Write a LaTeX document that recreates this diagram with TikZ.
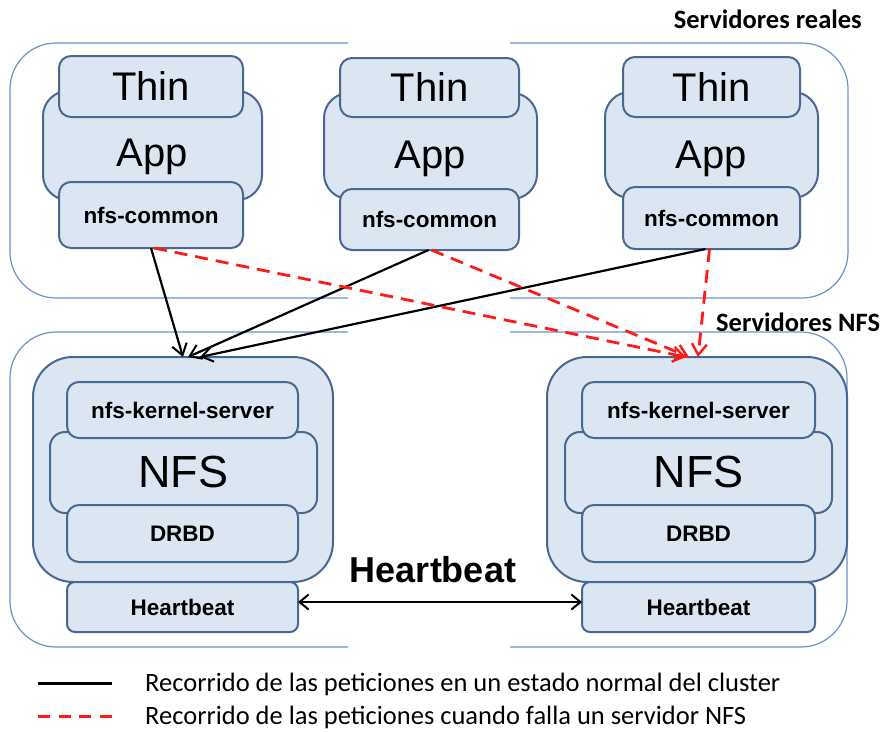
\documentclass[tikz,border=0pt]{standalone}
\usepackage{fontspec}
\setmainfont{Liberation Sans}
\newfontfamily\calfont{Carlito}
\usetikzlibrary{arrows.meta}
\definecolor{boxfill}{HTML}{DCE6F2}
\definecolor{boxline}{HTML}{48688F}
\definecolor{grpline}{HTML}{6A93C8}
\definecolor{dashred}{HTML}{FF1A1A}
\begin{document}
\begin{tikzpicture}[x=1pt,y=-1pt,
  bx/.style={draw=boxline, fill=boxfill, line width=2pt, inner sep=0pt, outer sep=0pt},
  grp/.style={draw=grpline, line width=1.2pt, rounded corners=46pt},
  big/.style={font=\fontsize{40}{48}\selectfont},
  nfsbig/.style={font=\fontsize{45}{54}\selectfont},
  small/.style={font=\bfseries\fontsize{22.5}{27}\selectfont},
  blk/.style={draw=black, line width=2.2pt, -{Straight Barb[length=11pt,width=15pt,line width=2pt]}},
  redpath/.style={draw=dashred, line width=2.8pt, dash pattern=on 13pt off 8pt, -{Straight Barb[length=11pt,width=15pt,line width=2.4pt]}},
  hbarrow/.style={draw=black, line width=2pt, {Straight Barb[length=9pt,width=15pt,line width=2pt]}-{Straight Barb[length=9pt,width=15pt,line width=2pt]}},
  captxt/.style={font=\calfont\bfseries\fontsize{26.5}{32}\selectfont, inner sep=0pt},
  legtext/.style={font=\calfont\fontsize{26.5}{32}\selectfont, inner sep=0pt, anchor=west}
]
\useasboundingbox (0,0) rectangle (888,731);

% group frames
\draw[grp] (348,43) -- (10,43) -- (10,298) -- (348,298);
\draw[grp] (510,298) -- (848,298) -- (848,43) -- (510,43);
\draw[grp] (348,332) -- (10,332) -- (10,647) -- (348,647);
\draw[grp] (510,647) -- (847,647) -- (847,332) -- (510,332);

\node[captxt, anchor=east] (lblreal) at (862,19) {Servidores reales};
\node[captxt, anchor=west] (lblnfs) at (716,322) {Servidores NFS};

% Thin App 1
\node[bx, rounded corners=25pt, minimum width=219pt, minimum height=109pt] (app1) at (152.5,145.5) {};
\node[big, inner sep=0pt] (apptxt1) at (152,157) {App};
\node[bx, rounded corners=12pt, minimum width=184pt, minimum height=61pt, big] (thin1) at (151,86.5) {Thin};
\node[bx, rounded corners=12pt, minimum width=184pt, minimum height=66pt, small] (nfc1) at (151,215) {nfs-common};

% Thin App 2
\node[bx, rounded corners=25pt, minimum width=213pt, minimum height=106pt] (app2) at (430.5,146) {};
\node[big, inner sep=0pt] (apptxt2) at (430,159) {App};
\node[bx, rounded corners=12pt, minimum width=179pt, minimum height=59pt, big] (thin2) at (429.5,87.5) {Thin};
\node[bx, rounded corners=12pt, minimum width=179pt, minimum height=61pt, small] (nfc2) at (429.5,219.5) {nfs-common};

% Thin App 3
\node[bx, rounded corners=25pt, minimum width=213pt, minimum height=106pt] (app3) at (711.5,145) {};
\node[big, inner sep=0pt] (apptxt3) at (711,159) {App};
\node[bx, rounded corners=12pt, minimum width=177pt, minimum height=60pt, big] (thin3) at (711.5,87) {Thin};
\node[bx, rounded corners=12pt, minimum width=177pt, minimum height=62pt, small] (nfc3) at (711.5,218) {nfs-common};

% NFS server 1
\node[bx, rounded corners=40pt, minimum width=300pt, minimum height=225pt] (srv1) at (183,469.5) {};
\node[bx, rounded corners=15pt, minimum width=267pt, minimum height=81pt, nfsbig] (nfsm1) at (183.5,472.5) {NFS};
\node[bx, rounded corners=12pt, minimum width=231pt, minimum height=56pt, small] (nks1) at (182.5,410) {nfs-kernel-server};
\node[bx, rounded corners=12pt, minimum width=231pt, minimum height=57pt, small] (drbd1) at (182.5,533.5) {DRBD};
\node[bx, rounded corners=8pt, minimum width=231pt, minimum height=50pt, small] (hb1) at (182.5,607) {Heartbeat};

% NFS server 2
\node[bx, rounded corners=40pt, minimum width=300pt, minimum height=225pt] (srv2) at (697,469.5) {};
\node[bx, rounded corners=15pt, minimum width=267pt, minimum height=81pt, nfsbig] (nfsm2) at (698.5,472.5) {NFS};
\node[bx, rounded corners=12pt, minimum width=233pt, minimum height=56pt, small] (nks2) at (698.5,410) {nfs-kernel-server};
\node[bx, rounded corners=12pt, minimum width=233pt, minimum height=57pt, small] (drbd2) at (698.5,533.5) {DRBD};
\node[bx, rounded corners=8pt, minimum width=233pt, minimum height=50pt, small] (hb2) at (698.5,607) {Heartbeat};

% heartbeat link
\node[font=\bfseries\fontsize{36}{42}\selectfont, inner sep=0pt] (hbtxt) at (433,570) {Heartbeat};
\draw[hbarrow] ([yshift=5pt]hb1.east) -- ([yshift=5pt]hb2.west);

% normal paths
\draw[blk] (nfc1.south) -- (srv1.north);
\draw[blk] ([xshift=-1pt]nfc2.south) -- ([xshift=5pt]srv1.north);
\draw[blk] ([xshift=-6pt]nfc3.south) -- ([xshift=17pt]srv1.north);

% failover paths
\draw[redpath] ([xshift=3pt]nfc1.south) -- ([xshift=-11pt]srv2.north);
\draw[redpath] ([xshift=2pt]nfc2.south) -- ([xshift=-8pt]srv2.north);
\draw[redpath] ([xshift=-2pt]nfc3.south) -- ([xshift=1pt]srv2.north);

% legend
\coordinate (la1) at (38,683);
\coordinate (lb1) at (112,683);
\coordinate (la2) at (38,716);
\coordinate (lb2) at (112,716);
\draw[black, line width=3pt] (la1) -- (lb1);
\draw[dashred, line width=3pt, dash pattern=on 12pt off 8.5pt] (la2) -- (lb2);
\node[legtext] (leg1) at (145,684) {Recorrido de las peticiones en un estado normal del cluster};
\node[legtext] (leg2) at (145,717) {Recorrido de las peticiones cuando falla un servidor NFS};
\end{tikzpicture}
\end{document}
